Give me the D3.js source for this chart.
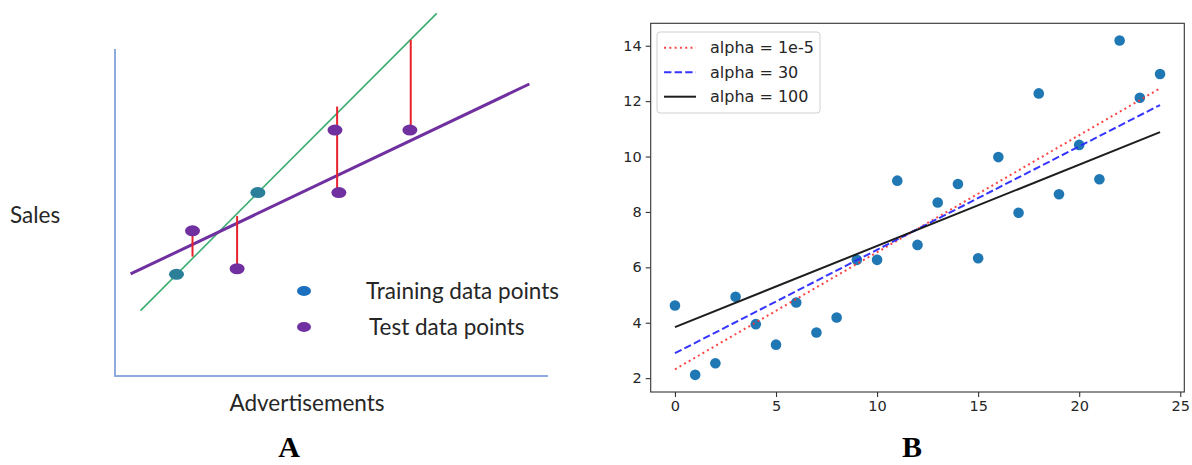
<!DOCTYPE html>
<html>
<head>
<meta charset="utf-8">
<script src="https://cdn.jsdelivr.net/npm/d3@7"></script>
<style>
  body { margin: 0; background: #fff; }
  svg { display: block; }
</style>
</head>
<body>
<div id="chart-area"></div>
<script>
// ---- panel A data (schematic units 0..100) ----
var trainX = [14.2, 33.0];
var trainY = [31.1, 56.1];
var testX = [17.9, 28.2, 50.8, 51.7, 68.1];
var testY = [44.4, 32.8, 75.2, 56.1, 75.2];
var greenLine = [[5.9, 20.0], [74.3, 110.9]];
var purpleLine = [[3.6, 31.2], [95.7, 89.3]];
var residX = [17.9, 28.2, 51.3, 68.3];
var residTop = [44.4, 48.9, 82.4, 102.8];
var residBottom = [36.5, 32.8, 56.1, 75.2];
var legendA = ["Training data points", "Test data points"];

// ---- panel B data ----
var xs = d3.range(0, 25);
var ys = [4.62, 2.12, 2.54, 4.94, 3.95, 3.21, 4.73, 3.65, 4.19, 6.27,
          6.27, 9.13, 6.81, 8.34, 9.01, 6.33, 9.98, 7.97, 12.28, 8.64,
          10.42, 9.18, 14.19, 12.12, 12.98];
var fitNames = ["alpha = 1e-5", "alpha = 30", "alpha = 100"];
var fitStart = [2.32, 2.90, 3.84];   // value at x = 0
var fitEnd = [12.46, 11.86, 10.88];  // value at x = 24
var xTicks = [0, 5, 10, 15, 20, 25];
var yTicks = [2, 4, 6, 8, 10, 12, 14];

var svg = d3.select("#chart-area").append("svg")
    .attr("width", 1192)
    .attr("height", 465);

svg.append("rect")
    .attr("width", 1192)
    .attr("height", 465)
    .attr("fill", "#fff");

// ================= Panel A =================
var xA = d3.scaleLinear().domain([0, 100]).range([115, 548]);
var yA = d3.scaleLinear().domain([0, 100]).range([376, 49]);

var gA = svg.append("g");

// axes
gA.append("path")
    .attr("d", "M" + xA(0) + "," + yA(100) + "V" + yA(0) + "H" + xA(100))
    .attr("fill", "none")
    .attr("stroke", "#8faadc")
    .attr("stroke-width", 2);

var lineA = d3.line()
    .x(function(d) { return xA(d[0]); })
    .y(function(d) { return yA(d[1]); });

gA.append("path")
    .attr("d", lineA(greenLine))
    .attr("stroke", "#3aae6e")
    .attr("stroke-width", 1.6)
    .attr("fill", "none");

gA.append("path")
    .attr("d", lineA(purpleLine))
    .attr("stroke", "#7030a0")
    .attr("stroke-width", 3)
    .attr("fill", "none");

residX.forEach(function(x, i) {
    gA.append("line")
        .attr("x1", xA(x))
        .attr("x2", xA(x))
        .attr("y1", yA(residTop[i]))
        .attr("y2", yA(residBottom[i]))
        .attr("stroke", "#e8222c")
        .attr("stroke-width", 2);
});

trainX.forEach(function(x, i) {
    gA.append("ellipse")
        .attr("cx", xA(x))
        .attr("cy", yA(trainY[i]))
        .attr("rx", 7.5)
        .attr("ry", 5.5)
        .attr("fill", "#2b7f98");
});

testX.forEach(function(x, i) {
    gA.append("ellipse")
        .attr("cx", xA(x))
        .attr("cy", yA(testY[i]))
        .attr("rx", 7.5)
        .attr("ry", 5.5)
        .attr("fill", "#7030a0");
});

var legColors = ["#1b6fbf", "#7030a0"];
legendA.forEach(function(name, i) {
    var row = gA.append("g")
        .attr("transform", "translate(304," + (291 + i * 36) + ")");
    row.append("ellipse")
        .attr("rx", 7)
        .attr("ry", 5)
        .attr("fill", legColors[i]);
    row.append("text")
        .attr("x", i == 0 ? 62 : 65)
        .attr("y", 8)
        .attr("font-family", "Lato, sans-serif")
        .attr("font-size", 22.5)
        .attr("fill", "#262626")
        .text(name);
});

gA.append("text")
    .attr("x", 10)
    .attr("y", 223)
    .attr("font-family", "Lato, sans-serif")
    .attr("font-size", 22.5)
    .attr("fill", "#262626")
    .text("Sales");

gA.append("text")
    .attr("x", 307)
    .attr("y", 411)
    .attr("text-anchor", "middle")
    .attr("font-family", "Lato, sans-serif")
    .attr("font-size", 22.5)
    .attr("fill", "#262626")
    .text("Advertisements");

gA.append("text")
    .attr("x", 289)
    .attr("y", 457)
    .attr("text-anchor", "middle")
    .attr("font-family", "Liberation Serif, serif")
    .attr("font-weight", "bold")
    .attr("font-size", 30)
    .attr("fill", "#000")
    .text("A");

// ================= Panel B =================
var xB = d3.scaleLinear().domain([-1.2, 25.2]).range([650.7, 1184.3]);
var yB = d3.scaleLinear().domain([1.5, 14.81]).range([392, 23.3]);

var gB = svg.append("g");

var xAxisCall = d3.axisBottom(xB).tickValues(xTicks).tickSize(5).tickPadding(4);
var yAxisCall = d3.axisLeft(yB).tickValues(yTicks).tickSize(5).tickPadding(4);

var gx = gB.append("g")
    .attr("transform", "translate(0,392)")
    .call(xAxisCall);
var gy = gB.append("g")
    .attr("transform", "translate(650.7,0)")
    .call(yAxisCall);

[gx, gy].forEach(function(ax) {
    ax.select(".domain").remove();
    ax.selectAll("line").attr("stroke", "#333").attr("stroke-width", 1.1);
    ax.selectAll("text")
        .attr("fill", "#262626")
        .attr("font-family", "DejaVu Sans, sans-serif")
        .attr("font-size", 14.5);
});

var fitLine = d3.line()
    .x(function(d) { return xB(d[0]); })
    .y(function(d) { return yB(d[1]); });

var fitStyles = [
    { color: "#ff3030", dash: "2,3.3", opacity: 0.9 },
    { color: "#2a2aff", dash: "7.4,3.2", opacity: 0.95 },
    { color: "#111", dash: null, opacity: 0.95 }
];

gB.selectAll(".dot")
    .data(xs)
    .enter().append("circle")
      .attr("class", "dot")
      .attr("cx", function(d) { return xB(d); })
      .attr("cy", function(d, i) { return yB(ys[i]); })
      .attr("r", 5.3)
      .attr("fill", "#1f77b4");

fitNames.forEach(function(name, i) {
    gB.append("path")
        .attr("d", fitLine([[0, fitStart[i]], [24, fitEnd[i]]]))
        .attr("fill", "none")
        .attr("stroke", fitStyles[i].color)
        .attr("stroke-opacity", fitStyles[i].opacity)
        .attr("stroke-width", 2)
        .attr("stroke-dasharray", fitStyles[i].dash);
});

// frame
gB.append("rect")
    .attr("x", 650.7)
    .attr("y", 23.3)
    .attr("width", 1184.3 - 650.7)
    .attr("height", 392 - 23.3)
    .attr("fill", "none")
    .attr("stroke", "#333")
    .attr("stroke-width", 1.1);

// legend
var legend = gB.append("g")
    .attr("transform", "translate(657,32)");

legend.append("rect")
    .attr("width", 163)
    .attr("height", 81)
    .attr("rx", 3)
    .attr("fill", "#fff")
    .attr("fill-opacity", 0.8)
    .attr("stroke", "#d0d0d0");

fitNames.forEach(function(name, i) {
    var legendRow = legend.append("g")
        .attr("transform", "translate(0," + (15.7 + i * 24.5) + ")");
    legendRow.append("line")
        .attr("x1", 7)
        .attr("x2", 39)
        .attr("stroke", fitStyles[i].color)
        .attr("stroke-opacity", fitStyles[i].opacity)
        .attr("stroke-width", 2)
        .attr("stroke-dasharray", fitStyles[i].dash);
    legendRow.append("text")
        .attr("x", 53)
        .attr("y", 5.5)
        .attr("font-family", "DejaVu Sans, sans-serif")
        .attr("font-size", 16)
        .attr("fill", "#262626")
        .text(name);
});

gB.append("text")
    .attr("x", 912)
    .attr("y", 457)
    .attr("text-anchor", "middle")
    .attr("font-family", "Liberation Serif, serif")
    .attr("font-weight", "bold")
    .attr("font-size", 30)
    .attr("fill", "#000")
    .text("B");
</script>
</body>
</html>
